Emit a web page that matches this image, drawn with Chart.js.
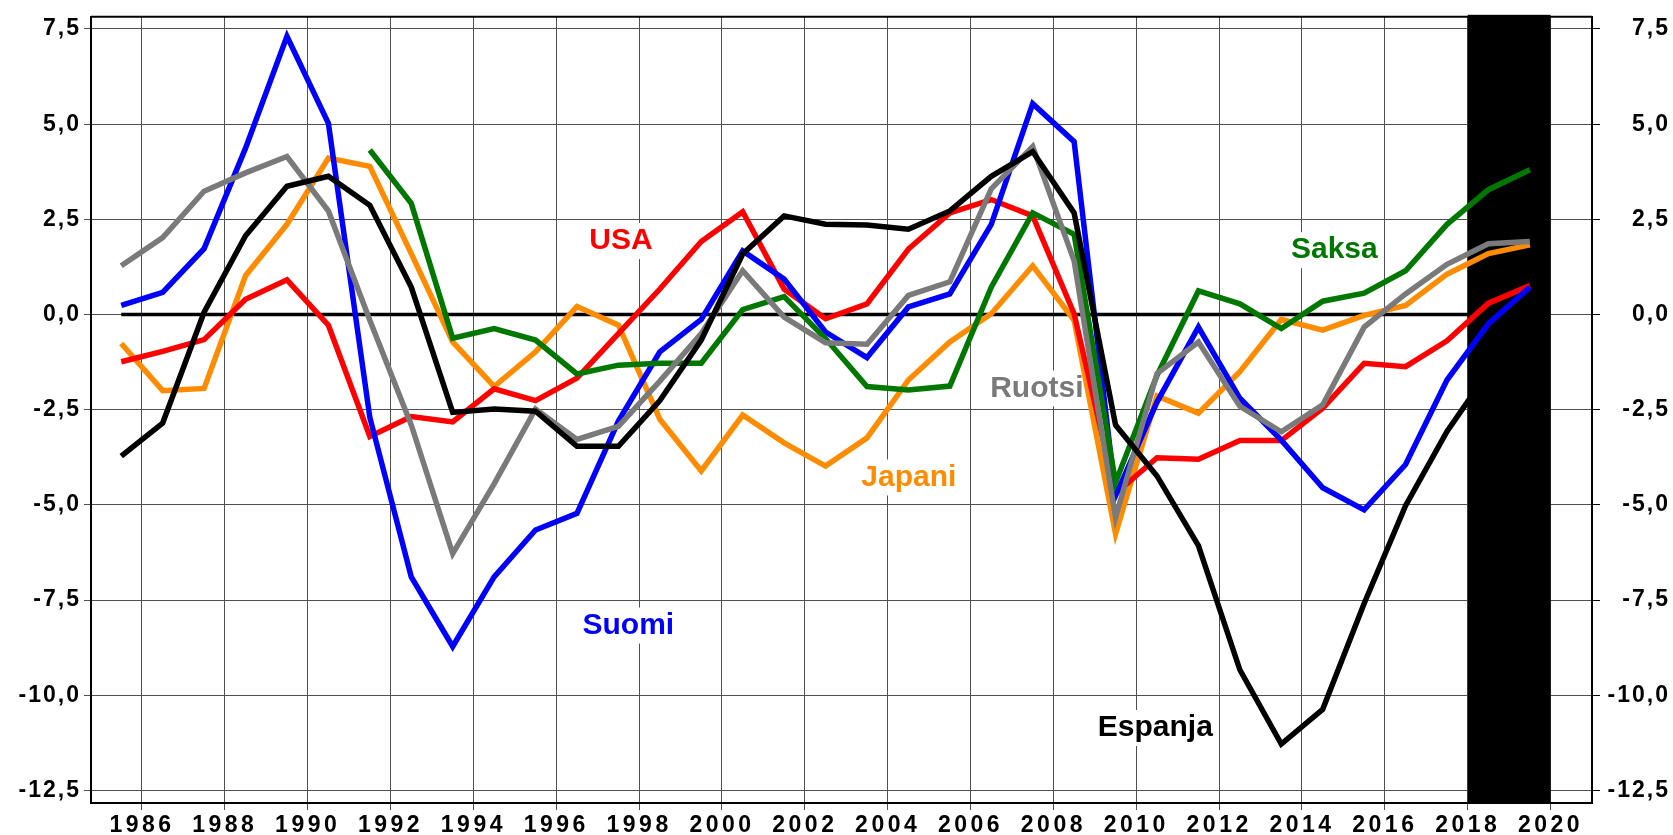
<!DOCTYPE html>
<html>
<head>
<meta charset="utf-8">
<script src="https://cdn.jsdelivr.net/npm/chart.js@4.4.1/dist/chart.umd.min.js"></script>
<style>
  html, body { margin: 0; padding: 0; background: #fff; }
  #wrap { width: 1673px; height: 835px; position: relative; }
</style>
</head>
<body>
<div id="wrap"><canvas id="gapChart"></canvas></div>
<script>
// mid-year observations
const years = [1985.5, 1986.5, 1987.5, 1988.5, 1989.5, 1990.5, 1991.5, 1992.5, 1993.5, 1994.5,
               1995.5, 1996.5, 1997.5, 1998.5, 1999.5, 2000.5, 2001.5, 2002.5, 2003.5, 2004.5,
               2005.5, 2006.5, 2007.5, 2008.5, 2009.5, 2010.5, 2011.5, 2012.5, 2013.5, 2014.5,
               2015.5, 2016.5, 2017.5, 2018.5, 2019.5];

const usa = [-1.24, -0.97, -0.66, 0.40, 0.91, -0.28, -3.20, -2.68, -2.82, -1.95,
             -2.26, -1.67, -0.50, 0.67, 1.92, 2.70, 0.67, -0.11, 0.28, 1.72,
             2.67, 3.02, 2.59, 0.02, -4.70, -3.76, -3.80, -3.31, -3.31, -2.46,
             -1.28, -1.37, -0.69, 0.30, 0.76];
const suomi = [0.24, 0.58, 1.73, 4.37, 7.31, 5.02, -2.70, -6.89, -8.72, -6.89,
               -5.66, -5.22, -2.80, -0.98, -0.13, 1.67, 0.93, -0.46, -1.13, 0.20,
               0.54, 2.37, 5.54, 4.54, -4.76, -2.30, -0.33, -2.20, -3.30, -4.55,
               -5.13, -3.94, -1.72, -0.24, 0.72];
const espanja = [-3.72, -2.85, 0.06, 2.07, 3.37, 3.63, 2.87, 0.72, -2.57, -2.48,
                 -2.54, -3.46, -3.46, -2.26, -0.67, 1.59, 2.59, 2.37, 2.35, 2.24,
                 2.72, 3.63, 4.28, 2.67, -2.90, -4.24, -6.07, -9.33, -11.28, -10.37,
                 -7.59, -5.02, -3.07, -1.50, -0.60];
const saksa = [null, null, null, null, null, null, 4.32, 2.92, -0.62, -0.37,
               -0.67, -1.56, -1.33, -1.28, -1.28, 0.13, 0.47, -0.63, -1.89, -1.98,
               -1.88, 0.72, 2.67, 2.11, -4.41, -1.60, 0.62, 0.28, -0.37, 0.35,
               0.56, 1.15, 2.37, 3.28, 3.80];
const japani = [-0.76, -2.00, -1.94, 1.02, 2.37, 4.11, 3.89, 1.60, -0.72, -1.89,
                -0.98, 0.21, -0.28, -2.75, -4.11, -2.64, -3.37, -3.98, -3.24, -1.72,
                -0.72, 0.02, 1.28, -0.15, -5.76, -2.14, -2.59, -1.50, -0.13, -0.41,
                -0.02, 0.24, 1.06, 1.60, 1.83];
const ruotsi = [1.28, 2.02, 3.24, 3.72, 4.15, 2.72, -0.15, -2.90, -6.28, -4.45,
                -2.48, -3.28, -2.94, -1.75, -0.50, 1.15, -0.07, -0.74, -0.78, 0.50,
                0.86, 3.30, 4.41, 1.41, -5.33, -1.55, -0.72, -2.41, -3.08, -2.37,
                -0.33, 0.54, 1.32, 1.86, 1.92];

const xTicks = [1986, 1988, 1990, 1992, 1994, 1996, 1998, 2000, 2002, 2004,
                2006, 2008, 2010, 2012, 2014, 2016, 2018, 2020];
const yTicks = [-12.5, -10, -7.5, -5, -2.5, 0, 2.5, 5, 7.5];
const forecastBand = [2018, 2020];
const zeroLine = [1985.5, 2019.5];

// series name labels, placed in data coordinates
const seriesLabels = [
    { text: 'USA', x: 1997.56, y: 1.93, color: '#ff0000' },
    { text: 'Suomi', x: 1997.74, y: -8.17, color: '#0000ff' },
    { text: 'Japani', x: 2004.51, y: -4.28, color: '#ff8c00' },
    { text: 'Ruotsi', x: 2007.6, y: -1.94, color: '#7a7a7a' },
    { text: 'Saksa', x: 2014.78, y: 1.69, color: '#007800' },
    { text: 'Espanja', x: 2010.46, y: -10.86, color: '#000000' }
];

function toPoints(values) {
    return years.map(function (x, i) { return { x: x, y: values[i] }; });
}

function line(label, values, color) {
    return {
        label: label,
        data: toPoints(values),
        borderColor: color,
        borderWidth: 5.5,
        borderJoinStyle: 'miter',
        borderCapStyle: 'butt',
        pointRadius: 0,
        tension: 0,
        spanGaps: false
    };
}

const axisFont = { family: '"Liberation Sans", Arial, sans-serif', size: 23, weight: 'bold' };
const fmtY = function (v) { return v.toFixed(1).replace('.', ','); };
const setYTicks = function (axis) { axis.ticks = yTicks.map(function (v) { return { value: v }; }); };

const decorations = {
    id: 'decorations',
    beforeDraw(chart) {
        // y tick labels
        chart.ctx.letterSpacing = '2px';
    },
    beforeDatasetsDraw(chart) {
        const { ctx, chartArea, scales } = chart;
        const x0 = scales.x.getPixelForValue(forecastBand[0]);
        const x1 = scales.x.getPixelForValue(forecastBand[1]);
        ctx.save();
        ctx.fillStyle = '#000';
        ctx.fillRect(x0, chartArea.top - 2, x1 - x0, chartArea.bottom - chartArea.top + 2);

        ctx.letterSpacing = '0px';
        ctx.font = 'bold 30px "Liberation Sans", Arial, sans-serif';
        ctx.textAlign = 'center';
        ctx.textBaseline = 'middle';
        seriesLabels.forEach(function (l) {
            const px = scales.x.getPixelForValue(l.x);
            const py = scales.y.getPixelForValue(l.y);
            const w = ctx.measureText(l.text).width;
            ctx.fillStyle = '#fff';
            ctx.fillRect(px - w / 2 - 5, py - 18, w + 10, 36);
            ctx.fillStyle = l.color;
            ctx.fillText(l.text, px, py);
        });
        ctx.restore();
    },
    afterDatasetsDraw(chart) {
        // x tick labels are drawn after this (ticks.z = 1)
        chart.ctx.letterSpacing = '3.5px';
    },
    afterDraw(chart) {
        const { ctx, chartArea } = chart;
        ctx.save();
        ctx.letterSpacing = '0px';
        ctx.strokeStyle = '#000';
        ctx.lineWidth = 2;
        ctx.beginPath();
        ctx.moveTo(chartArea.left, chartArea.top);
        ctx.lineTo(chartArea.right, chartArea.top);
        ctx.stroke();
        ctx.restore();
    }
};

document.addEventListener('DOMContentLoaded', function () {
    const ctx = document.getElementById('gapChart');
    new Chart(ctx, {
        type: 'line',
        data: {
            datasets: [
                line('Espanja', espanja, '#000000'),
                line('Ruotsi', ruotsi, '#7a7a7a'),
                line('Saksa', saksa, '#007800'),
                line('Suomi', suomi, '#0000ff'),
                line('USA', usa, '#ff0000'),
                line('Japani', japani, '#ff8c00'),
                {
                    label: 'zero',
                    data: zeroLine.map(function (x) { return { x: x, y: 0 }; }),
                    borderColor: '#000',
                    borderWidth: 3.5,
                    pointRadius: 0
                }
            ]
        },
        options: {
            responsive: true,
            maintainAspectRatio: false,
            animation: false,
            layout: { padding: { top: 11, right: 3, bottom: 0, left: 0 } },
            plugins: {
                legend: { display: false },
                tooltip: { enabled: false }
            },
            scales: {
                x: {
                    type: 'linear',
                    min: 1984.77,
                    max: 2021.0,
                    afterBuildTicks: function (axis) {
                        axis.ticks = xTicks.map(function (v) { return { value: v }; });
                    },
                    afterFit: function (s) { s.height = 32; },
                    ticks: {
                        z: 1,
                        autoSkip: false,
                        maxRotation: 0,
                        padding: 2,
                        color: '#000',
                        font: axisFont,
                        callback: function (v) { return String(v); }
                    },
                    grid: { color: '#505050', lineWidth: 1, tickLength: 7 },
                    border: { color: '#000', width: 2 }
                },
                y: {
                    position: 'left',
                    min: -12.83,
                    max: 7.82,
                    afterBuildTicks: setYTicks,
                    afterFit: function (s) { s.width = 91; },
                    ticks: { padding: 3, color: '#000', font: axisFont, callback: fmtY },
                    grid: { color: '#505050', lineWidth: 1, tickLength: 7 },
                    border: { color: '#000', width: 2 }
                },
                y2: {
                    position: 'right',
                    min: -12.83,
                    max: 7.82,
                    afterBuildTicks: setYTicks,
                    afterFit: function (s) { s.width = 78; },
                    ticks: { crossAlign: 'far', color: '#000', font: axisFont, callback: fmtY },
                    grid: { drawOnChartArea: false, color: '#000', lineWidth: 1, tickLength: 8 },
                    border: { color: '#000', width: 2 }
                }
            }
        },
        plugins: [decorations]
    });
});
</script>
</body>
</html>
